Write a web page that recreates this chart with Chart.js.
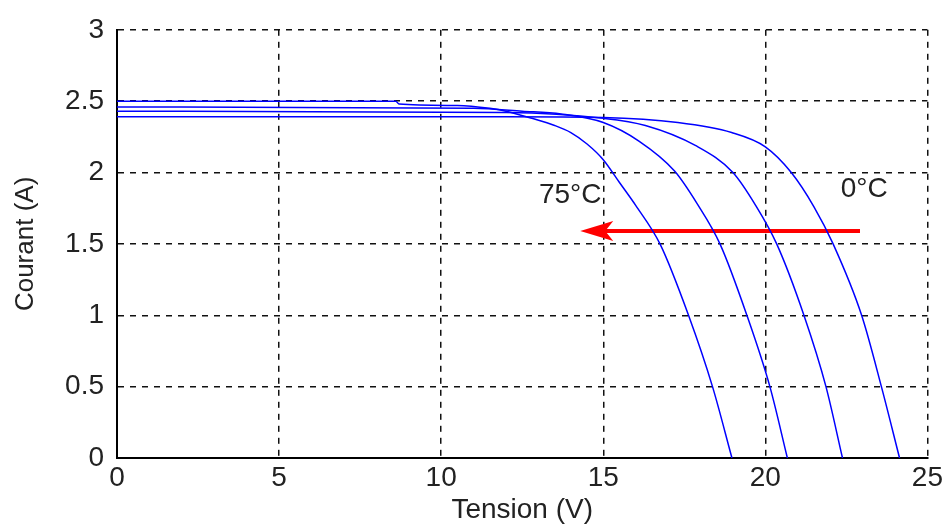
<!DOCTYPE html>
<html>
<head>
<meta charset="utf-8">
<script src="https://cdn.jsdelivr.net/npm/chart.js@4/dist/chart.umd.min.js"></script>
<style>
  html, body { margin: 0; padding: 0; background: #fff; }
  #wrap { width: 946px; height: 527px; }
</style>
</head>
<body>
<div id="wrap"><canvas id="ivChart"></canvas></div>
<script>
// I-V curves, one per temperature
var v75 = [0, 8.6, 8.7, 10.5, 11.5, 12.0, 12.8, 13.5, 14.0, 14.5, 15.0, 15.5, 16.0, 16.75, 17.63, 18.37, 18.97];
var i75 = [2.50, 2.50, 2.48, 2.47, 2.45, 2.43, 2.38, 2.33, 2.28, 2.20, 2.09, 1.93, 1.77, 1.5, 1.0, 0.5, 0];

var v50 = [0, 11, 12.5, 13.7, 15, 16.1, 17.2, 17.9, 18.6, 19.43, 20.14, 20.68];
var i50 = [2.46, 2.45, 2.43, 2.41, 2.35, 2.22, 2.01, 1.78, 1.5, 1.0, 0.5, 0];

var v25 = [0, 12, 15, 16.3, 17.84, 19.0, 19.7, 20.35, 21.19, 21.87, 22.38];
var i25 = [2.43, 2.42, 2.38, 2.33, 2.19, 2.0, 1.77, 1.5, 1.0, 0.5, 0];

var v0 = [0, 12, 15, 17.3, 18.96, 20.0, 20.8, 21.5, 22.09, 22.97, 23.58, 24.14];
var i0 = [2.39, 2.39, 2.385, 2.35, 2.28, 2.18, 2.0, 1.76, 1.5, 1.0, 0.5, 0];

// red arrow (tail -> tip)
var arrowV = [22.92, 14.29];
var arrowI = [1.59, 1.59];

// text labels on the plot
var labelText = ['75°C', '0°C'];
var labelV = [13.98, 23.05];
var labelI = [1.84, 1.88];

var xTicks = [0, 5, 10, 15, 20, 25];
var yTicks = [0, 0.5, 1, 1.5, 2, 2.5, 3];

function pts(v, i) {
    return v.map(function(x, k) { return {x: x, y: i[k]}; });
}

function curve(v, i) {
    return {
        data: pts(v, i),
        borderColor: '#0000ff',
        borderWidth: 1.5,
        pointRadius: 0,
        fill: false,
        cubicInterpolationMode: 'monotone'
    };
}

var arrowHead = {
    id: 'arrowHead',
    afterDatasetsDraw: function(chart) {
        var ctx = chart.ctx;
        var xs = chart.scales.x, ys = chart.scales.y;
        var tx = xs.getPixelForValue(arrowV[1]);
        var ty = ys.getPixelForValue(arrowI[1]);
        ctx.save();
        ctx.fillStyle = '#ff0000';
        ctx.beginPath();
        ctx.moveTo(tx, ty);
        ctx.lineTo(tx + 33, ty - 10);
        ctx.lineTo(tx + 25, ty);
        ctx.lineTo(tx + 33, ty + 10);
        ctx.closePath();
        ctx.fill();

        ctx.fillStyle = '#222';
        ctx.font = '28px "Liberation Sans", Arial, sans-serif';
        ctx.textAlign = 'center';
        ctx.textBaseline = 'middle';
        labelText.forEach(function(t, k) {
            ctx.fillText(t, xs.getPixelForValue(labelV[k]), ys.getPixelForValue(labelI[k]));
        });
        ctx.restore();
    }
};

var font = { family: '"Liberation Sans", Arial, sans-serif', size: 28 };

var ctx = document.getElementById('ivChart').getContext('2d');
var ivChart = new Chart(ctx, {
    type: 'line',
    data: {
        datasets: [
            curve(v75, i75),
            curve(v50, i50),
            curve(v25, i25),
            curve(v0, i0),
            {
                data: [{x: arrowV[0], y: arrowI[0]}, {x: arrowV[1] + 0.6, y: arrowI[1]}],
                borderColor: '#ff0000',
                borderWidth: 4,
                pointRadius: 0,
                fill: false
            }
        ]
    },
    options: {
        responsive: true,
        maintainAspectRatio: false,
        animation: false,
        layout: { padding: { left: 0, right: 16, top: 25, bottom: 0 } },
        plugins: {
            legend: { display: false },
            tooltip: { enabled: false }
        },
        scales: {
            x: {
                type: 'linear',
                min: 0,
                max: 25,
                afterBuildTicks: function(s) { s.ticks = xTicks.map(function(v) { return {value: v}; }); },
                afterFit: function(s) { s.height = 69; },
                ticks: { color: '#222', font: font, padding: 3, maxRotation: 0,
                         callback: function(v) { return String(v); } },
                grid: { color: '#111', lineWidth: 1.5, drawTicks: false },
                border: { display: true, color: '#000', width: 2, dash: [6, 6] },
                title: { display: true, text: 'Tension (V)', color: '#222', font: font, padding: 0 }
            },
            y: {
                min: 0,
                max: 3,
                afterBuildTicks: function(s) { s.ticks = yTicks.map(function(v) { return {value: v}; }); },
                afterFit: function(s) { s.width = 117; },
                ticks: { color: '#222', font: font, padding: 13,
                         callback: function(v) { return String(v); } },
                grid: { color: '#111', lineWidth: 1.5, drawTicks: false },
                border: { display: true, color: '#000', width: 2, dash: [6, 6] },
                title: { display: true, text: 'Courant (A)', color: '#222', font: { family: font.family, size: 26 }, padding: { top: 10, bottom: 0 } }
            }
        }
    },
    plugins: [arrowHead]
});
</script>
</body>
</html>
